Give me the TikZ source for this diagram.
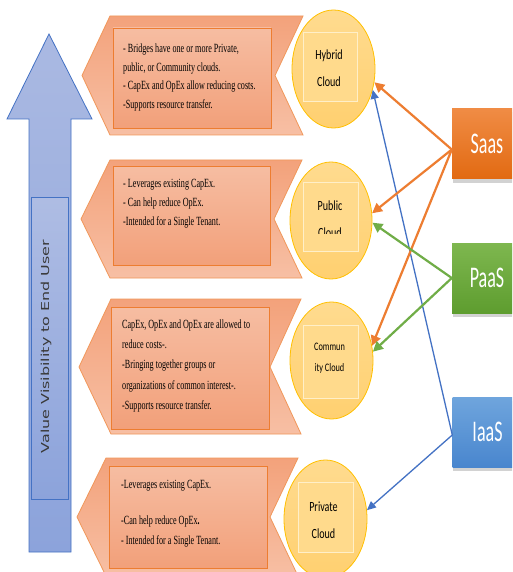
\documentclass[tikz,border=0pt]{standalone}
\usepackage{fontspec}
\setmainfont{Liberation Serif}
\newfontfamily\chevfont[FakeStretch=0.65]{Liberation Serif}
\newfontfamily\circfont[FakeStretch=0.72]{Carlito}
\newfontfamily\boxfont[FakeStretch=0.6]{Carlito}
\newfontfamily\vfont[FakeStretch=1.45]{DejaVu Sans}
\usetikzlibrary{arrows.meta,shapes.geometric,shadows}
\definecolor{orline}{HTML}{ED7D31}
\definecolor{chevtop}{HTML}{F3A27B}
\definecolor{chevbot}{HTML}{F7BFA4}
\definecolor{intop}{HTML}{F6BDA2}
\definecolor{inbot}{HTML}{F2A07A}
\definecolor{circtop}{HTML}{FFDB8F}
\definecolor{circbot}{HTML}{FFD070}
\definecolor{circline}{HTML}{FFC000}
\definecolor{sqline}{HTML}{FFEFC8}
\definecolor{arrtop}{HTML}{AAB9E2}
\definecolor{arrbot}{HTML}{8CA3DB}
\definecolor{blueline}{HTML}{4472C4}
\definecolor{greenline}{HTML}{70AD47}
\definecolor{saastop}{HTML}{F08C45}
\definecolor{saasbot}{HTML}{E26A12}
\definecolor{paastop}{HTML}{7EB74F}
\definecolor{paasbot}{HTML}{5E9D2F}
\definecolor{iaastop}{HTML}{6FA5DD}
\definecolor{iaasbot}{HTML}{4986CE}
\definecolor{labelgray}{HTML}{3A3A3A}
\begin{document}
\begin{tikzpicture}[x=1pt,y=-1pt,
  bigarrow/.style={draw=blueline,line width=0.8pt,top color=arrtop,bottom color=arrbot},
  vbox/.style={draw=blueline,line width=0.9pt,top color=arrtop!95!white,bottom color=arrbot,inner sep=0pt},
  vlabel/.style={rotate=90,font=\vfont\fontsize{11}{12}\selectfont,text=labelgray,inner sep=0pt},
  chev/.style={draw=orline!80!white,line width=0.8pt,top color=chevtop,bottom color=chevbot},
  chevin/.style={draw=orline,line width=0.8pt,top color=intop,bottom color=inbot,inner sep=0pt},
  chevtext/.style={anchor=north west,align=left,inner sep=0pt,text=black},
  cloud/.style={ellipse,draw=circline,line width=0.8pt,top color=circtop,bottom color=circbot,inner sep=0pt},
  cloudsq/.style={draw=sqline,line width=0.9pt,fill=circtop!90!circbot,inner sep=0pt},
  cloudtext/.style={align=center,inner sep=0pt,font=\circfont\fontsize{14}{27}\selectfont,text=black},
  svc/.style={inner sep=0pt,minimum width=70pt,minimum height=70pt,text=white,
    font=\boxfont\fontsize{30}{30}\selectfont,
    drop shadow={shadow xshift=0.5pt,shadow yshift=-4pt,opacity=0.35}},
  oarrow/.style={draw=orline,line width=2.2pt,-{Triangle[length=10pt,width=10pt]}},
  garrow/.style={draw=greenline,line width=2.2pt,-{Triangle[length=10pt,width=10pt]}},
  barrow/.style={draw=blueline,line width=1.3pt,-{Triangle[length=9pt,width=8pt]}}
]
\clip (0,0) rectangle (512,572);
\fill[white] (0,0) rectangle (512,572);

% big arrow
\path[bigarrow] (49,34) -- (92,119) -- (71,119) -- (71,552) -- (29,552) -- (29,119) -- (7,119) -- cycle;
\node[vbox,minimum width=37pt,minimum height=302pt] (vbox) at (49.5,348) {};
\node[vlabel] (vlabel) at (46,346.5) {Value Visibility to End User};

% chevrons
\path[chev] (110,16) -- (303,16) -- (275,75.5) -- (303,135) -- (110,135) -- (82,75.5) -- cycle;
\path[chev] (110,160) -- (302,160) -- (274,219) -- (302,278) -- (110,278) -- (81,219) -- cycle;
\path[chev] (111,299) -- (301,299) -- (270,367) -- (301,434) -- (111,434) -- (79,367) -- cycle;
\path[chev] (106,458) -- (298,458) -- (270,517) -- (298,576) -- (106,576) -- (77,517) -- cycle;

\node[chevin,minimum width=158pt,minimum height=100pt] (r1) at (192,78) {};
\node[chevin,minimum width=157pt,minimum height=99pt] (r2) at (191.5,215.5) {};
\node[chevin,minimum width=158pt,minimum height=122pt] (r3) at (190,368) {};
\node[chevin,minimum width=158pt,minimum height=102pt] (r4) at (188,517) {};

\node[chevtext,font=\chevfont\fontsize{12.5}{18.7}\selectfont] (t1) at (123,43.5)
  {- Bridges have one or more Private,\\public, or Community clouds.\\- CapEx and OpEx allow reducing costs.\\-Supports resource transfer.};
\node[chevtext,font=\chevfont\fontsize{12.5}{19}\selectfont] (t2) at (123,179.5)
  {- Leverages existing CapEx.\\- Can help reduce OpEx.\\-Intended for a Single Tenant.};
\node[chevtext,font=\chevfont\fontsize{12.5}{20.3}\selectfont] (t3) at (122,319.5)
  {CapEx, OpEx and OpEx are allowed to\\reduce costs-.\\-Bringing together groups or\\organizations of common interest-.\\-Supports resource transfer.};
\node[chevtext,font=\chevfont\fontsize{12.5}{20}\selectfont] (t4) at (121,480.5)
  {-Leverages existing CapEx.\\[16pt]-Can help reduce OpEx\textbf{.}\\- Intended for a Single Tenant.};

% clouds
\node[cloud,minimum width=83pt,minimum height=118pt] (hyb) at (333.5,69) {};
\node[cloud,minimum width=82pt,minimum height=117pt] (pub) at (331,220.5) {};
\node[cloud,minimum width=83pt,minimum height=117pt] (com) at (331.5,360.5) {};
\node[cloud,minimum width=83pt,minimum height=118pt] (pri) at (325.5,519) {};

\node[cloudsq,minimum width=54pt,minimum height=69pt] (hybsq) at (330,66.5) {};
\node[cloudsq,minimum width=55pt,minimum height=69pt] (pubsq) at (330.5,216.5) {};
\node[cloudsq,minimum width=55pt,minimum height=73pt] (comsq) at (330.5,361.5) {};
\node[cloudsq,minimum width=55pt,minimum height=70pt] (prisq) at (325.5,517) {};

\node[cloudtext] (hybt) at (329,68.5) {Hybrid\\Cloud};
\begin{scope}
\clip (290,160) rectangle (372,233.5);
\node[cloudtext] (pubt) at (330,219) {Public\\Cloud};
\end{scope}
\node[cloudtext,font=\circfont\fontsize{11.5}{21}\selectfont] (comt) at (329.5,358.5) {Commun\\ity Cloud};
\node[cloudtext] (prit) at (323.5,520) {Private\\Cloud};

% services
\node[svc,top color=saastop,bottom color=saasbot] (saas) at (487,143.5) {Saas};
\node[svc,top color=paastop,bottom color=paasbot] (paas) at (487,278) {PaaS};
\node[svc,top color=iaastop,bottom color=iaasbot] (iaas) at (487.5,432) {IaaS};

% connectors
\draw[barrow] ([yshift=-3pt]iaas.west) -- (hyb.-28);
\draw[barrow] ([yshift=-3pt]iaas.west) -- (pri.12);
\draw[oarrow] ([yshift=-6pt]saas.west) -- (hyb.-18);
\draw[oarrow] ([yshift=-6pt]saas.west) -- (pub.10);
\draw[oarrow] ([yshift=-6pt]saas.west) -- (com.20);
\draw[garrow] (paas.west) -- (pub.-3);
\draw[garrow] (paas.west) -- (com.12);
\end{tikzpicture}
\end{document}
